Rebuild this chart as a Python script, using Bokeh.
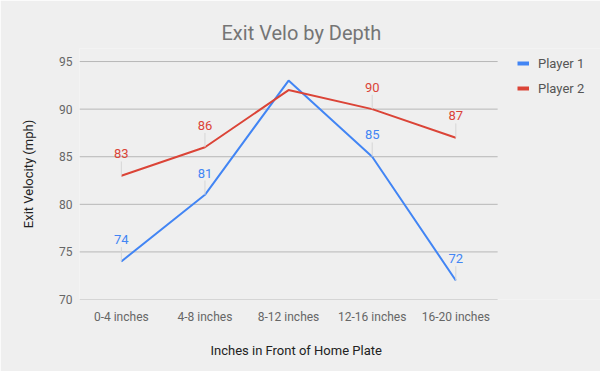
from bokeh.plotting import figure
from bokeh.models import (ColumnDataSource, Legend, LegendItem, Range1d,
                          FixedTicker, Title)
from bokeh.core.properties import value
from bokeh.embed import file_html
from bokeh.resources import INLINE

categories = ["0-4 inches", "4-8 inches", "8-12 inches", "12-16 inches", "16-20 inches"]
player1 = [74, 81, 93, 85, 72]
player2 = [83, 86, 92, 90, 87]
y_ticks = [70, 75, 80, 85, 90, 95]
# which points carry a data label (the peak labels are hidden in the original)
p1_labelled = [True, True, False, True, True]
p2_labelled = [True, True, False, True, True]

BLUE = "#4285F4"
RED = "#DB4437"
BG = "#efefef"
GRID = "#b7b7b7"
FONT = "Roboto"

xs = list(range(len(categories)))
n = len(categories)

# frame is widened to the right (and a little upward) so the legend sits inside it
p = figure(width=600, height=371, x_range=Range1d(-0.5, n + 0.73),
           y_range=Range1d(y_ticks[0], y_ticks[-1] + 1.37),
           output_backend="svg", toolbar_location=None,
           min_border_left=79, min_border_right=0, min_border_top=48, min_border_bottom=72,
           title="Exit Velo by Depth")
p.background_fill_color = BG
p.border_fill_color = BG
p.outline_line_color = None

p.title.text_font = FONT
p.title.text_font_size = "20px"
p.title.text_font_style = "normal"
p.title.text_color = "#757575"
p.title.align = "left"
p.title.offset = 142
p.title.standoff = 7

p.xgrid.visible = False
p.ygrid.visible = False
p.yaxis.ticker = FixedTicker(ticks=y_ticks)
p.xaxis.ticker = FixedTicker(ticks=xs)
p.xaxis.major_label_overrides = {i: c for i, c in zip(xs, categories)}

for ax in (p.xaxis[0], p.yaxis[0]):
    ax.axis_line_color = None
    ax.major_tick_line_color = None
    ax.minor_tick_line_color = None
    ax.major_tick_out = 0
    ax.major_tick_in = 0
    ax.minor_tick_out = 0
    ax.minor_tick_in = 0
    ax.major_label_text_font = FONT
    ax.major_label_text_font_size = "12px"
    ax.major_label_text_color = "#666666"
    ax.axis_label_text_font = FONT
    ax.axis_label_text_font_size = "13px"
    ax.axis_label_text_font_style = "normal"
    ax.axis_label_text_color = "#222222"

p.xaxis.major_label_standoff = 10
p.yaxis.axis_label = "Exit Velocity (mph)"
p.yaxis.major_label_standoff = 7
p.yaxis.axis_label_standoff = 20

# x-axis title, placed under the category area (not the widened frame)
xtitle = Title(text="Inches in Front of Home Plate", align="left", offset=131,
               standoff=28, text_font=FONT, text_font_size="13px",
               text_font_style="normal", text_color="#222222")
p.add_layout(xtitle, "below")

# horizontal gridlines spanning only the category area
p.segment(x0=[-0.5] * len(y_ticks), y0=y_ticks, x1=[n - 0.5] * len(y_ticks), y1=y_ticks,
          line_color=GRID, line_width=1)

src = ColumnDataSource(dict(x=xs, p1=player1, p2=player2))
p.line("x", "p1", source=src, line_color=BLUE, line_width=2)
p.line("x", "p2", source=src, line_color=RED, line_width=2)

# data labels with short leader lines
def label_source(vals, flags):
    xx = [i for i, f in zip(xs, flags) if f]
    v = [y for y, f in zip(vals, flags) if f]
    return ColumnDataSource(dict(x=xx, y=v, top=[y + 1.5 for y in v],
                                 txt=[str(y) for y in v]))

for vals, flags, col in ((player1, p1_labelled, BLUE), (player2, p2_labelled, RED)):
    ls = label_source(vals, flags)
    p.segment(x0="x", y0="y", x1="x", y1="top", source=ls,
              line_color="#d6d6d6", line_width=1)
    p.text(x="x", y="top", text="txt", source=ls, text_color=col,
           text_font=value(FONT), text_font_size="13px", text_align="center",
           text_baseline="bottom", y_offset=-3)

# legend (swatches from renderers that draw nothing in the plot)
nan = float("nan")
dummy = ColumnDataSource(dict(x=[nan, nan], y=[nan, nan]))
r1 = p.line("x", "y", source=dummy, line_color=BLUE, line_width=4)
r2 = p.line("x", "y", source=dummy, line_color=RED, line_width=4)
legend = Legend(items=[LegendItem(label="Player 1", renderers=[r1]),
                       LegendItem(label="Player 2", renderers=[r2])],
                location=(438, 203), orientation="vertical",
                background_fill_alpha=0, border_line_color=None,
                label_text_font=FONT, label_text_font_size="13px",
                label_text_color="#555555", glyph_width=12, glyph_height=16,
                label_height=16, label_standoff=9, spacing=9, padding=0, margin=0)
p.add_layout(legend, "center")

open("out.html", "w").write(file_html(p, INLINE))
